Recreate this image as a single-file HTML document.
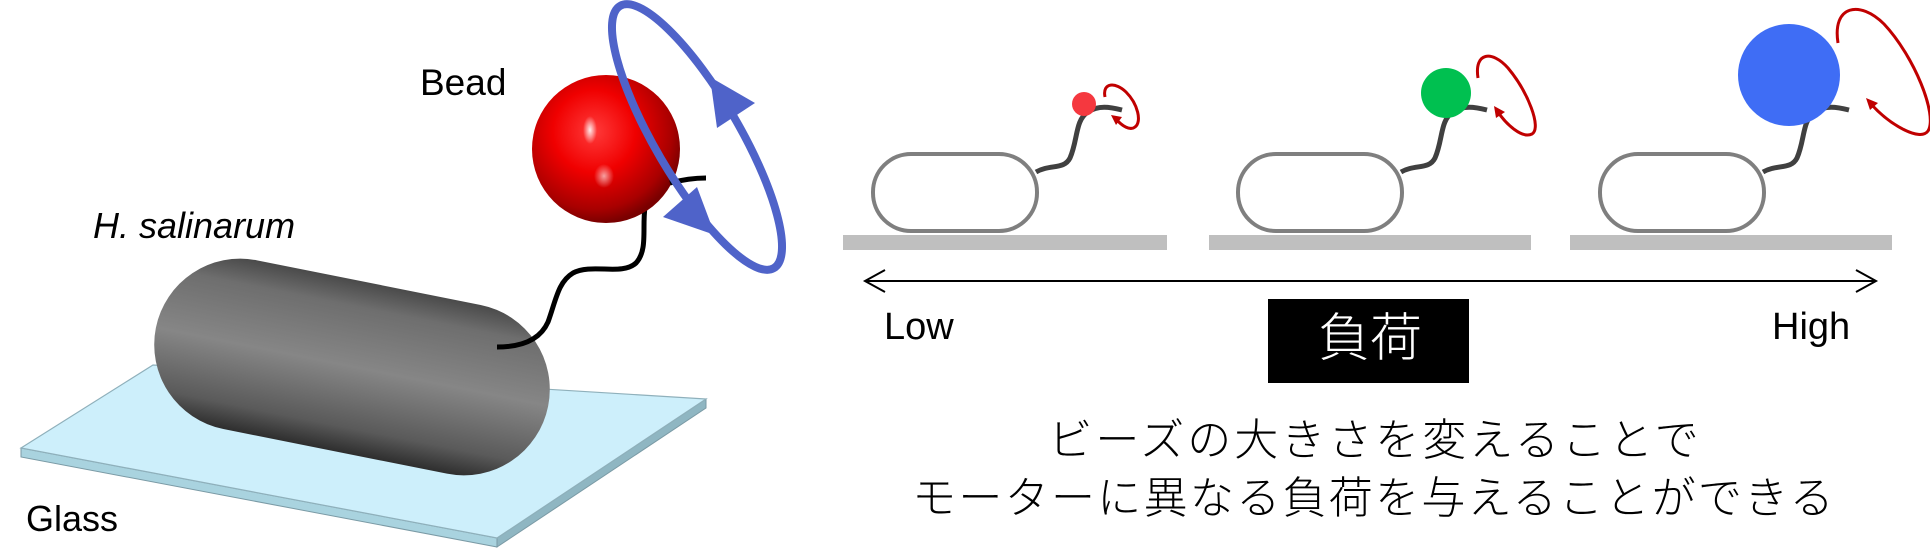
<!DOCTYPE html>
<html><head><meta charset="utf-8"><style>
html,body{margin:0;padding:0;background:#fff;width:1930px;height:560px;overflow:hidden}
svg{display:block}
text{font-family:"Liberation Sans","Noto Sans CJK JP",sans-serif}
</style></head><body>
<svg width="1930" height="560" viewBox="0 0 1930 560" xmlns="http://www.w3.org/2000/svg">
<defs>
<linearGradient id="cellg" x1="0" y1="0" x2="0" y2="1">
<stop offset="0" stop-color="#4a4a4a"/><stop offset="0.15" stop-color="#6e6e6e"/><stop offset="0.5" stop-color="#868686"/><stop offset="0.85" stop-color="#5a5a5a"/><stop offset="1" stop-color="#2e2e2e"/>
</linearGradient>
<radialGradient id="beadg" cx="0.42" cy="0.38" r="0.62">
<stop offset="0" stop-color="#ff3a3a"/><stop offset="0.45" stop-color="#f00000"/><stop offset="0.85" stop-color="#a80000"/><stop offset="1" stop-color="#7a0000"/>
</radialGradient>
<radialGradient id="hl" cx="0.5" cy="0.5" r="0.5"><stop offset="0" stop-color="#fff" stop-opacity="0.9"/><stop offset="1" stop-color="#fff" stop-opacity="0"/></radialGradient>
</defs>

<polygon points="21,448 497,538 497,547 21,457" fill="#a9d3df" stroke="#7a9aa5" stroke-width="1"/>
<polygon points="497,538 706,399 706,408 497,547" fill="#8fb6c2" stroke="#7a9aa5" stroke-width="1"/>
<polygon points="21,448 153,365 706,399 497,538" fill="#cdeffb" stroke="#8fb0bb" stroke-width="1.2"/>

<g transform="translate(352,367) rotate(11.3)">
<rect x="-200" y="-86" width="400" height="172" rx="86" fill="url(#cellg)"/>
</g>

<path d="M497,347 C522,347 540,340 548,322 C556,300 558,282 573,273 C592,263 622,276 636,263 C648,250 642,228 645,207" fill="none" stroke="#000" stroke-width="5"/>

<circle cx="606" cy="149" r="74" fill="url(#beadg)"/>
<ellipse cx="590" cy="130" rx="7" ry="14" fill="url(#hl)"/>
<ellipse cx="604" cy="176" rx="10" ry="12" fill="url(#hl)" opacity="0.7"/>
<path d="M670,183 C685,179 695,178 706,178" fill="none" stroke="#000" stroke-width="5"/>

<ellipse cx="697" cy="137" rx="152" ry="42" transform="rotate(59.6 697 137)" fill="none" stroke="#4f63c9" stroke-width="8"/>
<polygon points="717,128 710,77 755,103" fill="#4f63c9"/>
<polygon points="663,217 697,187 715,235" fill="#4f63c9"/>

<text x="420" y="95" font-size="37">Bead</text>
<text x="93" y="238" font-size="36" font-style="italic">H. salinarum</text>
<text x="26" y="531" font-size="36">Glass</text>

<rect x="843" y="235" width="324" height="15" fill="#bfbfbf"/>
<rect x="1209" y="235" width="322" height="15" fill="#bfbfbf"/>
<rect x="1570" y="235" width="322" height="15" fill="#bfbfbf"/>

<g id="c1">
<rect x="873" y="154" width="164" height="77" rx="38" fill="#fff" stroke="#7f7f7f" stroke-width="4"/>
<path d="M1036,172 C1050,164 1064,170 1070,158 C1078,140 1075,120 1088,112 C1098,105 1110,107 1122,110" fill="none" stroke="#404040" stroke-width="5"/>
</g>
<use href="#c1" transform="translate(365,0)"/>
<use href="#c1" transform="translate(727,0)"/>

<circle cx="1084" cy="104" r="12" fill="#f5383f"/>
<circle cx="1446" cy="93" r="25" fill="#00c050"/>
<circle cx="1789" cy="75" r="51" fill="#3f6df5"/>

<g fill="none" stroke="#c00000" stroke-width="3">
<path d="M1105,97 C1102,82 1116,82 1126,92 C1138,104 1142,122 1135,127 C1130,131 1122,126 1116,119"/>
<path d="M1478,78 C1474,52 1492,50 1508,68 C1528,92 1542,128 1532,134 C1522,139 1506,124 1498,112"/>
<path d="M1838,43 C1832,5 1860,0 1884,24 C1914,56 1938,115 1928,131 C1920,142 1890,125 1871,104"/>
</g>
<g fill="#c00000">
<polygon points="1111,115 1122,117 1116,125"/>
<polygon points="1494,106 1505,112 1496,118"/>
<polygon points="1866,98 1878,103 1870,110"/>
</g>

<line x1="866" y1="281" x2="1875" y2="281" stroke="#000" stroke-width="2"/>
<polyline points="885,270 865,281 885,292" fill="none" stroke="#000" stroke-width="2"/>
<polyline points="1856,270 1876,281 1856,292" fill="none" stroke="#000" stroke-width="2"/>

<text x="884" y="339" font-size="38">Low</text>
<text x="1772" y="339" font-size="38">High</text>

<rect x="1268" y="299" width="201" height="84" fill="#000"/>
<text x="1370" y="356" font-size="52" fill="#fff" text-anchor="middle" font-weight="300">負荷</text>

<text x="1375" y="455" font-size="44" text-anchor="middle" letter-spacing="3" font-weight="300">ビーズの大きさを変えることで</text>
<text x="1374" y="513" font-size="44" text-anchor="middle" letter-spacing="2.3" font-weight="300">モーターに異なる負荷を与えることができる</text>
</svg>
</body></html>
